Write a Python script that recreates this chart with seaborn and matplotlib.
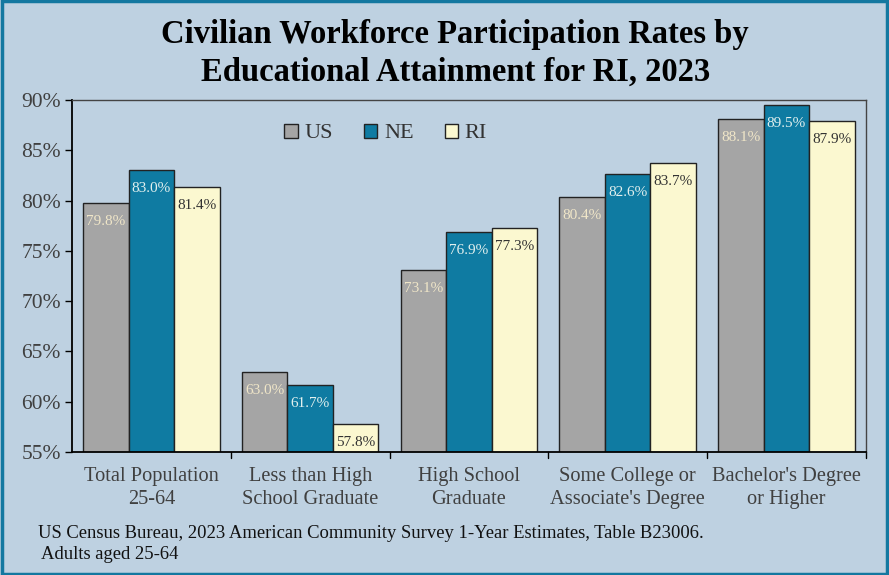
import seaborn as sns
import matplotlib.pyplot as plt
import pandas as pd
from matplotlib.patches import Rectangle

# Data
categories = ['Total Population\n25-64', 'Less than High\nSchool Graduate', 'High School\nGraduate',
              'Some College or\nAssociate\'s Degree', 'Bachelor\'s Degree\nor Higher']
regions = ['US', 'NE', 'RI']
us_rates = [79.8, 63.0, 73.1, 80.4, 88.1]
ne_rates = [83.0, 61.7, 76.9, 82.6, 89.5]
ri_rates = [81.4, 57.8, 77.3, 83.7, 87.9]

palette = {'US': '#A5A5A5', 'NE': '#0F7BA2', 'RI': '#FBF8D0'}
label_colors = {'US': '#F0E6C8', 'NE': '#E2F0EE', 'RI': '#333333'}
bg = '#BED1E1'

df = pd.DataFrame({
    'Category': categories * 3,
    'Region': ['US'] * 5 + ['NE'] * 5 + ['RI'] * 5,
    'Rate': us_rates + ne_rates + ri_rates,
})

sns.set_style('white')
plt.rcParams['font.family'] = ['Liberation Serif', 'DejaVu Serif']

fig = plt.figure(figsize=(8.89, 5.75), dpi=100, facecolor=bg)
ax = fig.add_axes([0.081, 0.214, 0.893, 0.612])
ax.set_facecolor(bg)

sns.barplot(data=df, x='Category', y='Rate', hue='Region', hue_order=regions,
            palette=palette, width=0.86, edgecolor='#222222', linewidth=1,
            saturation=1, ax=ax, legend=True)

ax.set_ylim(55, 90)
ax.set_xlim(-0.5, 4.5)
ax.set_yticks(range(55, 91, 5))
ax.set_yticklabels([f'{v}%' for v in range(55, 91, 5)], fontsize=15.5, color='#404040')
ax.set_xticks([0, 1, 2, 3, 4])
ax.set_xticklabels(categories, fontsize=14.7, color='#404040', linespacing=1.3)
ax.tick_params(axis='x', length=0, pad=11)
ax.tick_params(axis='y', length=5, width=1, color='black', left=True, direction='out', pad=3)
for b in [0.5, 1.5, 2.5, 3.5, 4.5]:
    ax.plot([b, b], [55, 54.4], color='black', lw=1, clip_on=False)
ax.set_xlabel('')
ax.set_ylabel('')

for side in ['left', 'bottom']:
    ax.spines[side].set_color('black')
    ax.spines[side].set_linewidth(1.3)
for side in ['top', 'right']:
    ax.spines[side].set_color('#444444')
    ax.spines[side].set_linewidth(1)

for cont, reg in zip(ax.containers, regions):
    ax.bar_label(cont, labels=[f'{v:.1f}%' for v in cont.datavalues], padding=-18,
                 fontsize=11, color=label_colors[reg])

leg = ax.legend(loc='center', bbox_to_anchor=(0.395, 0.905), ncol=3, frameon=False,
                fontsize=16, handlelength=0.6, handleheight=0.6, handletextpad=0.3,
                columnspacing=1.4)
for t in leg.get_texts():
    t.set_color('#333333')

fig.text(0.512, 0.94, 'Civilian Workforce Participation Rates by', ha='center', va='center',
         fontsize=23.5, fontweight='bold', color='black')
fig.text(0.512, 0.875, 'Educational Attainment for RI, 2023', ha='center', va='center',
         fontsize=23.5, fontweight='bold', color='black')
fig.text(0.043, 0.072, 'US Census Bureau, 2023 American Community Survey 1-Year Estimates, Table B23006.',
         fontsize=13.4, color='#111111', va='center')
fig.text(0.046, 0.035, 'Adults aged 25-64', fontsize=13.4, color='#111111', va='center')

fig.patches.append(Rectangle((0.002, 0.002), 0.996, 0.996, transform=fig.transFigure,
                             fill=False, edgecolor='#1478A0', linewidth=2.5))

fig.savefig('out.png', dpi=100, facecolor=bg)
